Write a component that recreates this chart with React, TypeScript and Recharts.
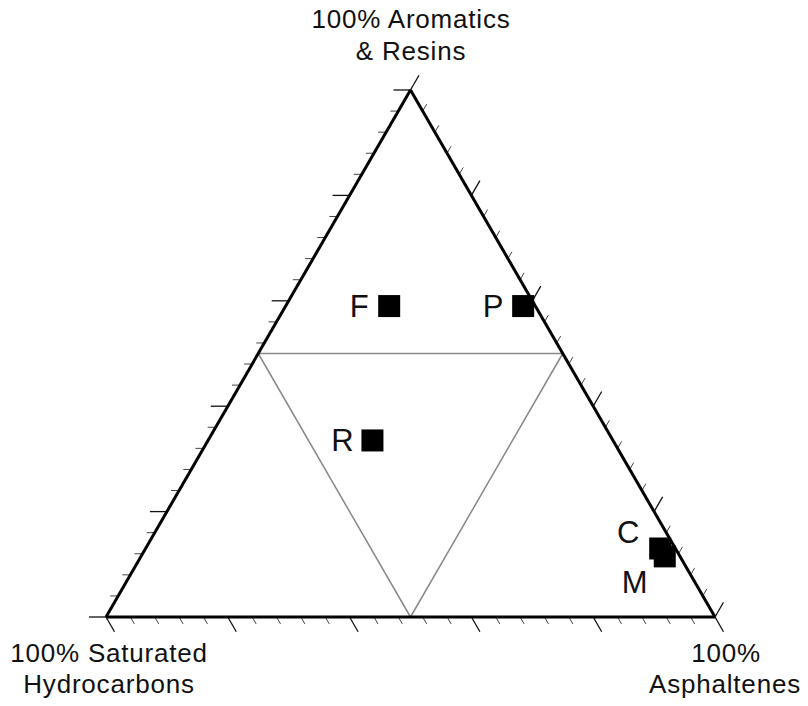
import { ScatterChart, Scatter, XAxis, YAxis, ReferenceLine } from 'recharts';

// sample composition, percent
const samples = ['F', 'P', 'R', 'C', 'M'];
const saturates = [24, 2, 39.5, 2.5, 2.5];
const aromaticsResins = [59, 59, 33.5, 13, 11.5];
const asphaltenes = [17, 39, 27, 84.5, 86];

// tick positions along each side, percent
const tickValues = [0, 4, 8, 12, 16, 20, 24, 28, 32, 36, 40, 44, 48, 52, 56, 60, 64, 68, 72, 76, 80, 84, 88, 92, 96, 100];
const majorEvery = 20;

const W = 808;
const H = 706;
const M = { top: 90, right: 93, bottom: 89, left: 106 };
const PW = W - M.left - M.right;
const PH = H - M.top - M.bottom;

const FONT = '"Liberation Sans", Arial, sans-serif';

// ternary -> cartesian (x: 0..1 across base, y: 0..1 up to apex)
const toXY = (ar: number, asp: number) => ({ x: asp / 100 + ar / 200, y: ar / 100 });

const points = samples.map((name, i) => ({
  name,
  sat: saturates[i],
  ...toXY(aromaticsResins[i], asphaltenes[i]),
}));

const px2x = (d: number) => d / PW;
const px2y = (d: number) => -d / PH;

type Seg = [{ x: number; y: number }, { x: number; y: number }];
const ticks: { seg: Seg; major: boolean }[] = [];
tickValues.forEach((t) => {
  const major = t % majorEvery === 0;
  const L = major ? 17 : 8;
  // left side (aromatics scale): horizontal to the left
  const a = toXY(t, 0);
  ticks.push({ seg: [a, { x: a.x + px2x(-L), y: a.y }], major });
  // base (asphaltenes scale): down-right
  const b = toXY(0, t);
  ticks.push({ seg: [b, { x: b.x + px2x(0.5 * L), y: b.y + px2y(0.866 * L) }], major });
  // right side: up-right
  const c = toXY(t, 100 - t);
  ticks.push({ seg: [c, { x: c.x + px2x(0.5 * L), y: c.y + px2y(-0.866 * L) }], major });
});

const outer: Seg[] = [
  [toXY(0, 0), toXY(0, 100)],
  [toXY(0, 100), toXY(100, 0)],
  [toXY(100, 0), toXY(0, 0)],
];
const inner: Seg[] = [
  [toXY(50, 0), toXY(50, 50)],
  [toXY(50, 50), toXY(0, 50)],
  [toXY(0, 50), toXY(50, 0)],
];

const labelOffset: Record<string, [number, number]> = {
  C: [-32, -16],
  M: [-30, 26],
};

const SampleShape = (props: any) => {
  const { cx, cy, payload } = props;
  const s = 22;
  const [dx, dy] = labelOffset[payload.name] || [-30, 0];
  return (
    <g>
      <rect x={cx - s / 2} y={cy - s / 2} width={s} height={s} fill="#000" />
      <text
        x={cx + dx}
        y={cy + dy}
        textAnchor="middle"
        dominantBaseline="central"
        fontFamily={FONT}
        fontSize={31}
        fill="#111"
      >
        {payload.name}
      </text>
    </g>
  );
};

const cornerText = { fontFamily: FONT, fontSize: 26, letterSpacing: 0.8, fill: '#111' };

export default function App() {
  return (
    <div style={{ position: 'absolute', left: 0, top: 0, background: '#fff' }}>
      <ScatterChart width={W} height={H} margin={M}>
        <XAxis type="number" dataKey="x" domain={[0, 1]} hide allowDataOverflow />
        <YAxis type="number" dataKey="y" domain={[0, 1]} hide allowDataOverflow />
        {inner.map((seg, i) => (
          <ReferenceLine key={'in' + i} segment={seg} stroke="#888" strokeWidth={1.5} ifOverflow="visible" />
        ))}
        {ticks.map((t, i) => (
          <ReferenceLine
            key={'t' + i}
            segment={t.seg}
            stroke={t.major ? '#111' : '#444'}
            strokeWidth={t.major ? 1.3 : 1}
            ifOverflow="visible"
          />
        ))}
        {outer.map((seg, i) => (
          <ReferenceLine key={'out' + i} segment={seg} stroke="#000" strokeWidth={3} ifOverflow="visible" />
        ))}
        <Scatter data={points} shape={SampleShape} isAnimationActive={false} />
        <g>
          <text x={411} y={28} textAnchor="middle" {...cornerText}>100% Aromatics</text>
          <text x={411} y={60} textAnchor="middle" {...cornerText}>&amp; Resins</text>
          <text x={109} y={662} textAnchor="middle" {...cornerText}>100% Saturated</text>
          <text x={109} y={693} textAnchor="middle" {...cornerText}>Hydrocarbons</text>
          <text x={726} y={662} textAnchor="middle" {...cornerText}>100%</text>
          <text x={725} y={693} textAnchor="middle" {...cornerText}>Asphaltenes</text>
        </g>
      </ScatterChart>
    </div>
  );
}
